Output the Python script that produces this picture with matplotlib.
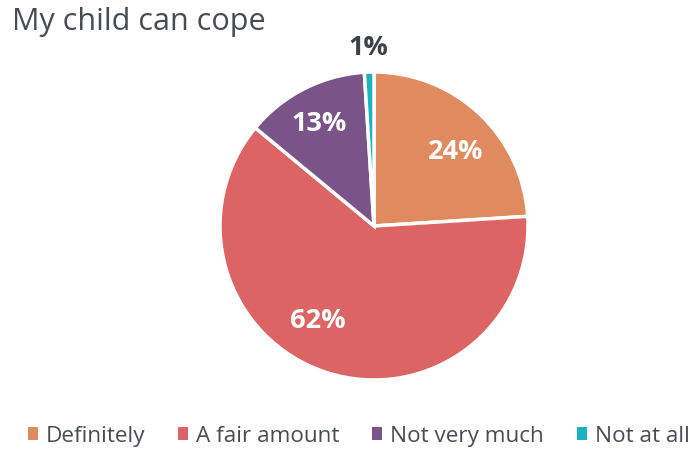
import numpy as np
import matplotlib
matplotlib.use("Agg")
import matplotlib.pyplot as plt

categories = ["Definitely", "A fair amount", "Not very much", "Not at all"]
values = [24, 62, 13, 1]
colors = ["#DF8A5F", "#DC6464", "#7A5489", "#1AB3BF"]
title = "My child can cope"

plt.rcParams["font.family"] = ["Open Sans", "DejaVu Sans"]

W, H = 694, 452
fig = plt.figure(figsize=(W / 100, H / 100), dpi=100)
fig.patch.set_facecolor("white")

cx, cy, r = 374, 227, 154
ax = fig.add_axes([(cx - r) / W, (H - cy - r) / H, 2 * r / W, 2 * r / H])
wedges, _ = ax.pie(values, colors=colors, startangle=90, counterclock=False,
                   radius=1.0, wedgeprops=dict(edgecolor="white", linewidth=2.5))
ax.set_xlim(-1, 1)
ax.set_ylim(-1, 1)
ax.set_aspect("equal")
ax.axis("off")

# label placement: (distance from centre, angular nudge in degrees, inside?)
placement = [(0.72, -4, True), (0.71, -13, True), (0.76, 1, True), (1.16, 0, False)]
for w, v, (dist, nudge, inside) in zip(wedges, values, placement):
    mid = np.deg2rad((w.theta1 + w.theta2) / 2 + nudge)
    ax.text(dist * np.cos(mid), dist * np.sin(mid), f"{v}%",
            ha="center", va="center", fontsize=19.5, fontweight="bold",
            color="white" if inside else "#3D4148", clip_on=False)

fig.text(12 / W, 1 - 22 / H, title, fontsize=22, color="#474C55",
         ha="left", va="center")

handles = [plt.Rectangle((0, 0), 1, 1, facecolor=c, edgecolor="none") for c in colors]
fig.legend(handles, categories, loc="center", bbox_to_anchor=(0.517, 1 - 437 / H),
           ncol=4, frameon=False, fontsize=16.2, handlelength=0.45, handleheight=0.45,
           handletextpad=0.35, columnspacing=1.45, labelcolor="#474C55")

fig.savefig("out.png", dpi=100)
